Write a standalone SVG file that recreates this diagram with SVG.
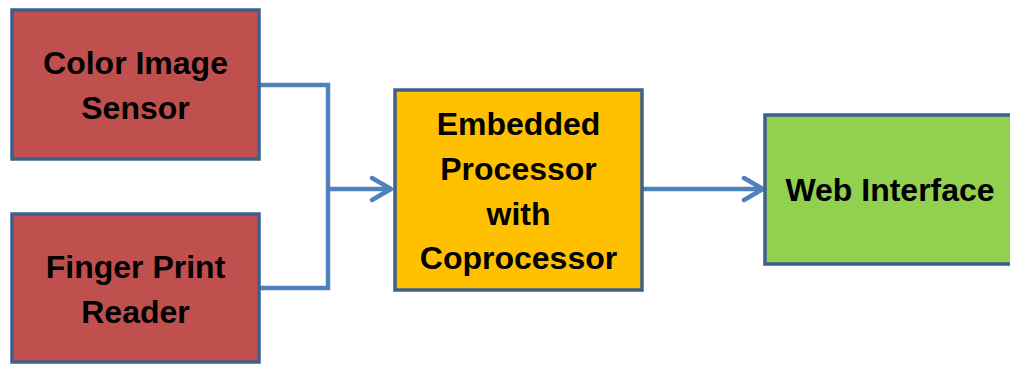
<svg xmlns="http://www.w3.org/2000/svg" width="1010" height="365" viewBox="0 0 1010 365">
<style>
.box{stroke:#3D6091;stroke-width:3.5}
.red{fill:#C0504D}
.orange{fill:#FFC000}
.green{fill:#92D050}
.lbl{font-family:"Liberation Sans",Arial,sans-serif;font-weight:bold;font-size:32px;fill:#000;text-anchor:middle}
.conn{fill:none;stroke:#4F81BD;stroke-width:4.5;stroke-linejoin:miter}
.head{fill:none;stroke:#4F81BD;stroke-width:4.5;stroke-linecap:round;stroke-linejoin:round}
</style>
<rect width="1010" height="365" fill="#fff"/>
<g id="connectors">
<polyline class="conn" points="259,85 328,85 328,288 259,288"/>
<line class="conn" x1="328" y1="189" x2="391" y2="189"/>
<polyline class="head" points="372,178 391,189 372,200"/>
<line class="conn" x1="642" y1="189" x2="763" y2="189"/>
<polyline class="head" points="744,178 763,189 744,200"/>
</g>
<g id="color-image-sensor">
<rect class="box red" x="12" y="10" width="247" height="149"/>
<text class="lbl" x="135.5" y="74">Color Image</text>
<text class="lbl" x="135.5" y="119">Sensor</text>
</g>
<g id="finger-print-reader">
<rect class="box red" x="12" y="214" width="247" height="148"/>
<text class="lbl" x="135.5" y="278">Finger Print</text>
<text class="lbl" x="135.5" y="323">Reader</text>
</g>
<g id="embedded-processor">
<rect class="box orange" x="395" y="90" width="247" height="200"/>
<text class="lbl" x="518.5" y="135">Embedded</text>
<text class="lbl" x="518.5" y="180">Processor</text>
<text class="lbl" x="518.5" y="225">with</text>
<text class="lbl" x="518.5" y="269">Coprocessor</text>
</g>
<g id="web-interface">
<rect class="box green" x="765" y="115" width="250" height="149"/>
<text class="lbl" x="890" y="201">Web Interface</text>
</g>
</svg>
